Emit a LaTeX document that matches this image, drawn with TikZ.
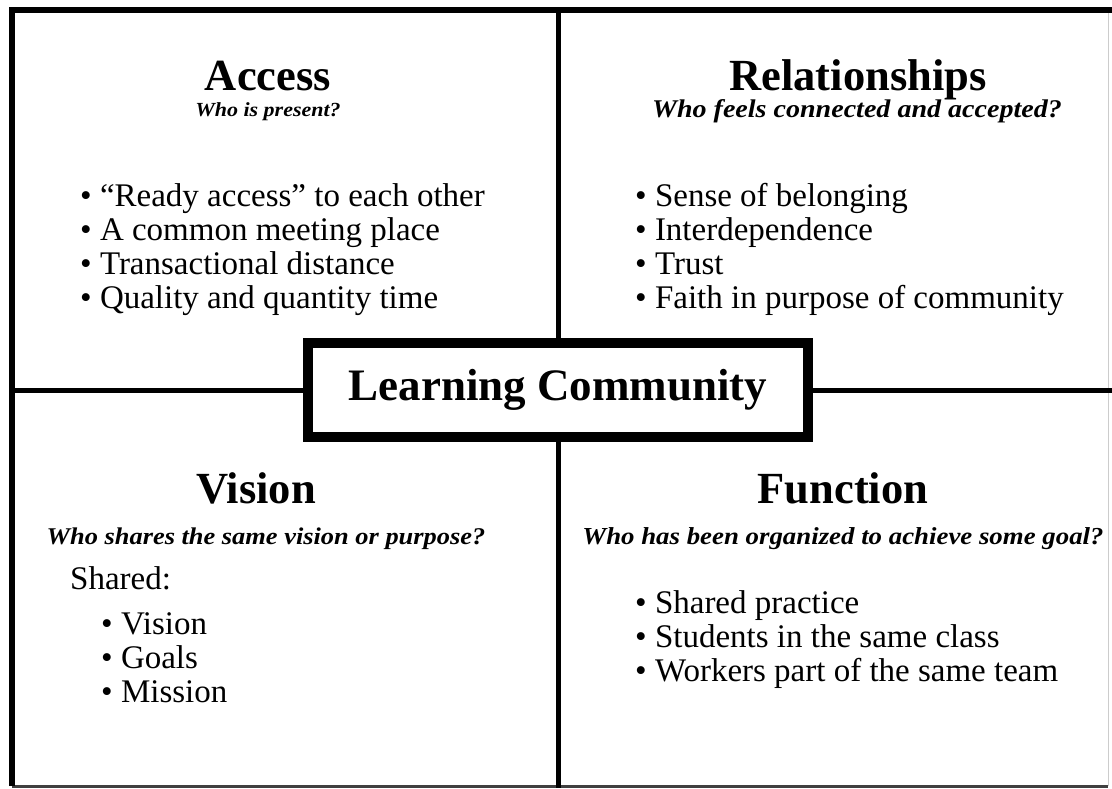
\documentclass[tikz,border=0pt]{standalone}
\usepackage{fontspec}
\setmainfont{Liberation Serif}
\newfontfamily\askfont[FakeStretch=1.1]{Liberation Serif}

\tikzstyle{heading} = [font=\bfseries\fontsize{44.5}{48}\selectfont, inner sep=0pt, anchor=base]
\tikzstyle{question} = [font=\askfont\bfseries\itshape\fontsize{#1}{#1}\selectfont, inner sep=0pt, anchor=base]
\tikzstyle{point} = [font=\fontsize{33}{34}\selectfont, inner sep=0pt, anchor=base west]
\tikzstyle{divider} = [line width=5pt]
\tikzstyle{hub} = [rectangle, draw=black, line width=10pt, fill=white, minimum width=500pt, minimum height=94pt, font=\bfseries\fontsize{45}{48}\selectfont]

\begin{document}
\begin{tikzpicture}[x=1pt,y=-1pt]
	\useasboundingbox (0,0) rectangle (1112,788);
	\fill[white] (0,0) rectangle (1112,788);

	% outer frame
	\coordinate (tl) at (12,10);
	\coordinate (tr) at (1108,10);
	\coordinate (bl) at (12,786);
	\coordinate (br) at (1108,786);
	\draw[gray!40, line width=1pt] (tr) -- (br);
	\draw[black!75, line width=3pt] (bl) -- (br);
	\draw[line width=6pt] (bl) -- (tl) -- (1112,10);

	% centre box and dividers
	\node (hub) [hub] at (558,390) {Learning Community};
	\coordinate (top) at (558,10);
	\coordinate (bottom) at (558,788);
	\coordinate (left) at (12,390);
	\coordinate (right) at (1112,390);
	\draw [divider] (top) -- (hub.north);
	\draw [divider] (hub.south) -- (bottom);
	\draw [divider] (left) -- (hub.west);
	\draw [divider] (hub.east) -- (right);

	% Access
	\node (access) [heading] at (268,90) {Access};
	\node (accessq) [question=20] at (268,116) {Who is present?};
	\foreach \txt [count=\i] in {“Ready access” to each other, A common meeting place, Transactional distance, Quality and quantity time}
		\node (access\i) [point] at (80,172+34*\i) {\textbullet\ \txt};

	% Relationships
	\node (rel) [heading] at (858,90) {Relationships};
	\node (relq) [question=25.5] at (857,117) {Who feels connected and accepted?};
	\foreach \txt [count=\i] in {Sense of belonging, Interdependence, Trust, Faith in purpose of community}
		\node (rel\i) [point] at (635,172+34*\i) {\textbullet\ \txt};

	% Vision
	\node (vision) [heading] at (256,503) {Vision};
	\node (visionq) [question=24] at (266,544) {Who shares the same vision or purpose?};
	\node (shared) [point] at (70,589) {Shared:};
	\foreach \txt [count=\i] in {Vision, Goals, Mission}
		\node (vision\i) [point] at (101,600+34*\i) {\textbullet\ \txt};

	% Function
	\node (func) [heading] at (843,503) {Function};
	\node (funcq) [question=24.4] at (843,544) {Who has been organized to achieve some goal?};
	\foreach \txt [count=\i] in {Shared practice, Students in the same class, Workers part of the same team}
		\node (func\i) [point] at (635,579+34*\i) {\textbullet\ \txt};
\end{tikzpicture}
\end{document}
